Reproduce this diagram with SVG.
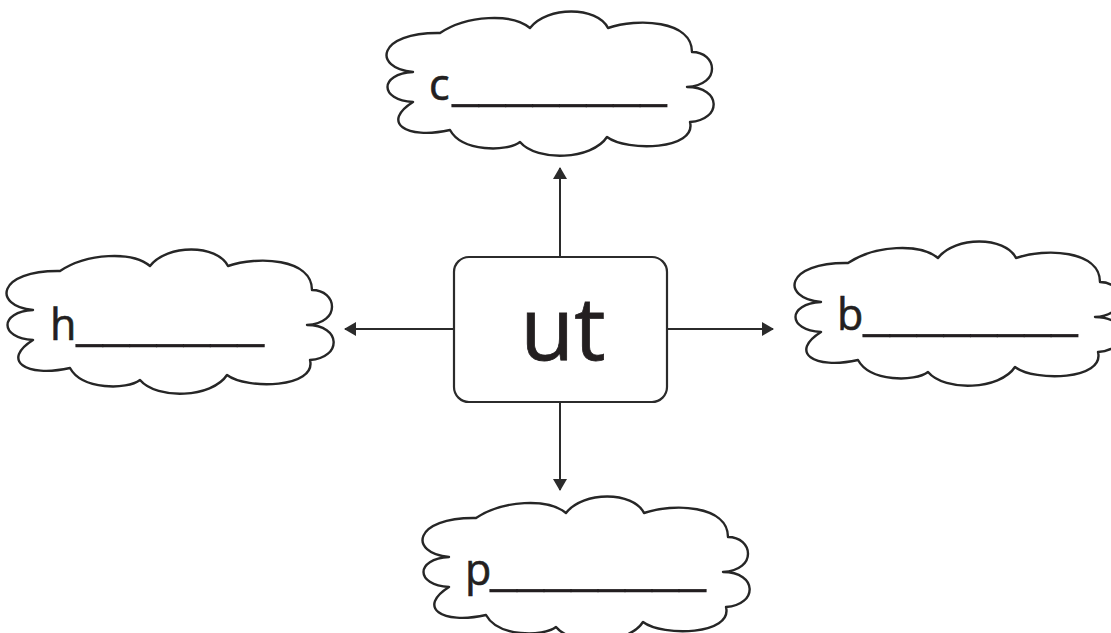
<svg xmlns="http://www.w3.org/2000/svg" width="1111" height="633" viewBox="0 0 1111 633">
<style>
.cloud{fill:#fff;stroke:#262626;stroke-width:2.4;stroke-linejoin:round}
.lbl{font-family:"Open Sans","Liberation Sans",sans-serif;font-size:43px;fill:#231f20;stroke:#231f20;stroke-width:0.6}
.main{font-family:"Open Sans","Liberation Sans",sans-serif;font-size:88px;fill:#231f20;stroke:#231f20;stroke-width:0.8}
.conn{stroke:#2b2b2b;stroke-width:2;fill:none}
</style>
<defs>
<path id="cloudShape" d="M53,23 C80,5 125,3 143,18 C160,-4 210,-4 221,18 C250,8 305,10 305,42 C330,42 335,75 300,77 C335,77 335,110 303,112 C310,140 240,142 220,127 C205,150 150,152 133,132 C120,142 75,142 63,120 C18,130 -6,112 26,92 C-8,90 -8,64 26,62 C-15,58 -10,22 53,23 Z"/>
<marker id="ah" viewBox="0 0 12 14" refX="11" refY="7" markerWidth="12" markerHeight="14" markerUnits="userSpaceOnUse" orient="auto">
<path d="M0,0 L12,7 L0,14 Z" fill="#2b2b2b"/>
</marker>
</defs>
<g id="connectors">
<line class="conn" x1="560" y1="257" x2="560" y2="168" marker-end="url(#ah)"/>
<line class="conn" x1="560" y1="402" x2="560" y2="490" marker-end="url(#ah)"/>
<line class="conn" x1="453" y1="329" x2="345" y2="329" marker-end="url(#ah)"/>
<line class="conn" x1="668" y1="329" x2="773" y2="329" marker-end="url(#ah)"/>
</g>
<g id="center">
<rect x="454" y="257" width="213" height="145" rx="15" ry="15" fill="#fff" stroke="#2b2b2b" stroke-width="2.2"/>
<text class="main" x="563" y="360" text-anchor="middle">ut</text>
</g>
<g id="cloud-c" transform="translate(387,10)">
<use href="#cloudShape" class="cloud"/>
<text class="lbl" x="42" y="90">c<tspan x="65" textLength="215" lengthAdjust="spacingAndGlyphs">________</tspan></text>
</g>
<g id="cloud-h" transform="translate(7,248)">
<use href="#cloudShape" class="cloud"/>
<text class="lbl" x="43" y="92">h<tspan x="69" textLength="188" lengthAdjust="spacingAndGlyphs">_______</tspan></text>
</g>
<g id="cloud-b" transform="translate(795,240)">
<use href="#cloudShape" class="cloud"/>
<text class="lbl" x="42" y="90">b<tspan x="68" textLength="215" lengthAdjust="spacingAndGlyphs">________</tspan></text>
</g>
<g id="cloud-p" transform="translate(423,495)">
<use href="#cloudShape" class="cloud"/>
<text class="lbl" x="42" y="90">p<tspan x="67" textLength="216" lengthAdjust="spacingAndGlyphs">________</tspan></text>
</g>
</svg>
